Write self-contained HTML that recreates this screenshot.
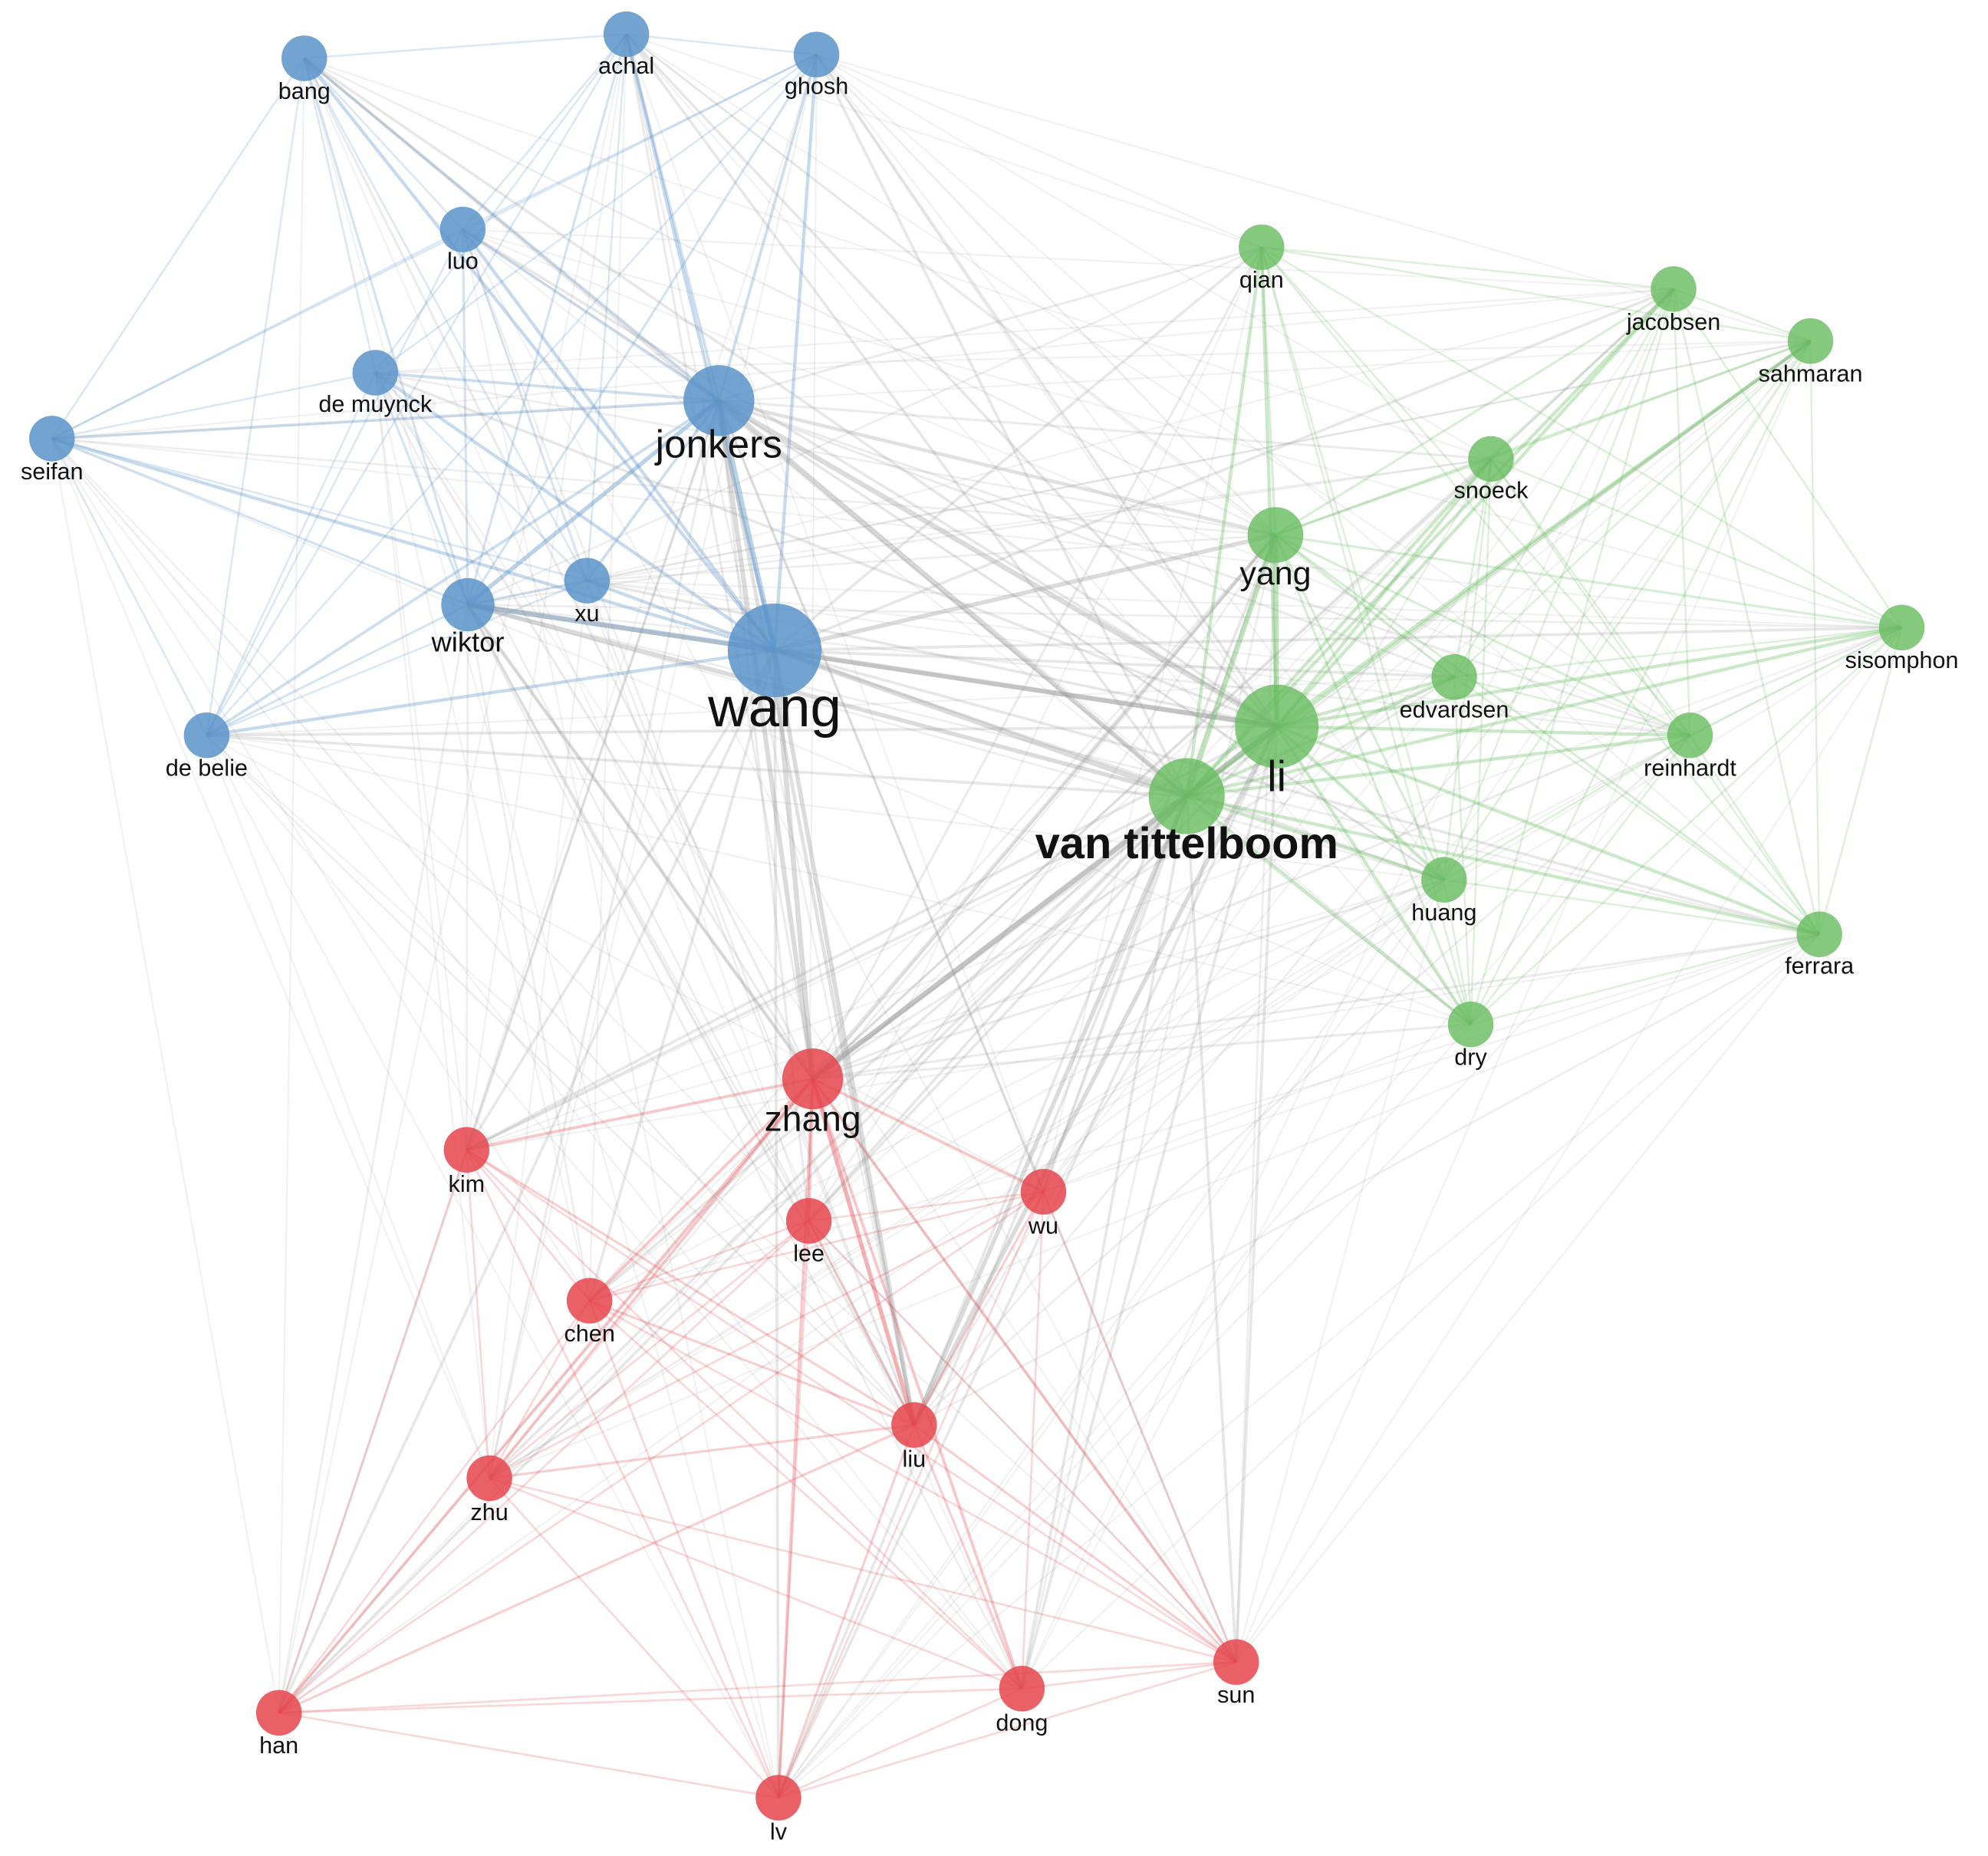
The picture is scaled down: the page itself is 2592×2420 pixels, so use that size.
<!DOCTYPE html>
<html><head><meta charset="utf-8">
<style>
html,body{margin:0;padding:0;background:#fff;}
svg{display:block;}
text{font-family:"Liberation Sans",sans-serif;fill:#111;text-anchor:middle;}
</style></head>
<body>
<svg id="s" width="2592" height="2420" viewBox="0 0 1568 1464" preserveAspectRatio="none" xmlns="http://www.w3.org/2000/svg">
<rect width="1568" height="1464" fill="#fff"/>
<g id="edges"></g>
<g id="nodes">
<circle cx="240" cy="46" r="18" fill="#5b93c9" fill-opacity="0.85"/>
<circle cx="494" cy="27" r="18" fill="#5b93c9" fill-opacity="0.85"/>
<circle cx="644" cy="43" r="18" fill="#5b93c9" fill-opacity="0.85"/>
<circle cx="365" cy="181" r="18" fill="#5b93c9" fill-opacity="0.85"/>
<circle cx="296" cy="294" r="18" fill="#5b93c9" fill-opacity="0.85"/>
<circle cx="567" cy="316" r="28" fill="#5b93c9" fill-opacity="0.85"/>
<circle cx="41" cy="346" r="18" fill="#5b93c9" fill-opacity="0.85"/>
<circle cx="369" cy="477" r="21" fill="#5b93c9" fill-opacity="0.85"/>
<circle cx="463" cy="458" r="18" fill="#5b93c9" fill-opacity="0.85"/>
<circle cx="611" cy="513" r="37" fill="#5b93c9" fill-opacity="0.85"/>
<circle cx="163" cy="580" r="18" fill="#5b93c9" fill-opacity="0.85"/>
<circle cx="995" cy="195" r="18" fill="#67bb5f" fill-opacity="0.8"/>
<circle cx="1320" cy="228" r="18" fill="#67bb5f" fill-opacity="0.8"/>
<circle cx="1428" cy="269" r="18" fill="#67bb5f" fill-opacity="0.8"/>
<circle cx="1176" cy="362" r="18" fill="#67bb5f" fill-opacity="0.8"/>
<circle cx="1006" cy="422" r="22" fill="#67bb5f" fill-opacity="0.8"/>
<circle cx="1500" cy="495" r="18" fill="#67bb5f" fill-opacity="0.8"/>
<circle cx="1147" cy="534" r="18" fill="#67bb5f" fill-opacity="0.8"/>
<circle cx="1007" cy="573" r="33" fill="#67bb5f" fill-opacity="0.8"/>
<circle cx="1333" cy="580" r="18" fill="#67bb5f" fill-opacity="0.8"/>
<circle cx="936" cy="628" r="30" fill="#67bb5f" fill-opacity="0.8"/>
<circle cx="1139" cy="694" r="18" fill="#67bb5f" fill-opacity="0.8"/>
<circle cx="1435" cy="737" r="18" fill="#67bb5f" fill-opacity="0.8"/>
<circle cx="1160" cy="808" r="18" fill="#67bb5f" fill-opacity="0.8"/>
<circle cx="641" cy="851" r="24" fill="#e5454c" fill-opacity="0.85"/>
<circle cx="368" cy="907" r="18" fill="#e5454c" fill-opacity="0.85"/>
<circle cx="823" cy="940" r="18" fill="#e5454c" fill-opacity="0.85"/>
<circle cx="638" cy="963" r="18" fill="#e5454c" fill-opacity="0.85"/>
<circle cx="465" cy="1026" r="18" fill="#e5454c" fill-opacity="0.85"/>
<circle cx="721" cy="1124" r="18" fill="#e5454c" fill-opacity="0.85"/>
<circle cx="386" cy="1166" r="18" fill="#e5454c" fill-opacity="0.85"/>
<circle cx="220" cy="1351" r="18" fill="#e5454c" fill-opacity="0.85"/>
<circle cx="806" cy="1332" r="18" fill="#e5454c" fill-opacity="0.85"/>
<circle cx="975" cy="1311" r="18" fill="#e5454c" fill-opacity="0.85"/>
<circle cx="614" cy="1418" r="18" fill="#e5454c" fill-opacity="0.85"/>
</g>
<g id="labels" font-size="18.5">
<text x="240" y="78">bang</text>
<text x="494" y="58">achal</text>
<text x="644" y="74">ghosh</text>
<text x="365" y="212">luo</text>
<text x="296" y="325">de muynck</text>
<text x="567" y="361" font-size="31">jonkers</text>
<text x="41" y="378">seifan</text>
<text x="369" y="514" font-size="22">wiktor</text>
<text x="463" y="490">xu</text>
<text x="611" y="573" font-size="44">wang</text>
<text x="163" y="612">de belie</text>
<text x="995" y="227">qian</text>
<text x="1320" y="260">jacobsen</text>
<text x="1428" y="301">sahmaran</text>
<text x="1176" y="393">snoeck</text>
<text x="1006" y="461" font-size="26">yang</text>
<text x="1500" y="527">sisomphon</text>
<text x="1147" y="566">edvardsen</text>
<text x="1007" y="624" font-size="34">li</text>
<text x="1333" y="612">reinhardt</text>
<text x="936" y="677" font-size="35" font-weight="bold">van tittelboom</text>
<text x="1139" y="726">huang</text>
<text x="1435" y="768">ferrara</text>
<text x="1160" y="840">dry</text>
<text x="641" y="892" font-size="28">zhang</text>
<text x="368" y="940">kim</text>
<text x="823" y="973">wu</text>
<text x="638" y="995">lee</text>
<text x="465" y="1058">chen</text>
<text x="721" y="1157">liu</text>
<text x="386" y="1199">zhu</text>
<text x="220" y="1383">han</text>
<text x="806" y="1365">dong</text>
<text x="975" y="1343">sun</text>
<text x="614" y="1451">lv</text>
</g>
</svg>
<script>
(function(){
var N=[
[240,46,0,1],[494,27,0,1],[644,43,0,1],[365,181,0,1],[296,294,0,1],[567,316,0,3],[41,346,0,1],[369,477,0,2],[463,458,0,1],[611,513,0,4],[163,580,0,1],
[995,195,1,1],[1320,228,1,1],[1428,269,1,1],[1176,362,1,1],[1006,422,1,2],[1500,495,1,1],[1147,534,1,1],[1007,573,1,4],[1333,580,1,1],[936,628,1,4],[1139,694,1,1],[1435,737,1,1],[1160,808,1,1],
[641,851,2,3],[368,907,2,1],[823,940,2,1],[638,963,2,1],[465,1026,2,1],[721,1124,2,2],[386,1166,2,1],[220,1351,2,1],[806,1332,2,1],[975,1311,2,1],[614,1418,2,1]];
var col=["#5b93c9","#67bb5f","#e5454c"];
var seed=7;function rnd(){seed=(seed*16807)%2147483647;return seed/2147483647;}
var out=[];
for(var i=0;i<N.length;i++)for(var j=i+1;j<N.length;j++){
var a=N[i],b=N[j],w=a[3]*b[3],r=rnd();
if(a[2]==b[2]){
 if(r>0.85&&w<2)continue;
 out.push('<line x1="'+a[0]+'" y1="'+a[1]+'" x2="'+b[0]+'" y2="'+b[1]+'" stroke="'+col[a[2]]+'" stroke-opacity="'+(0.18+0.04*Math.min(w,6))+'" stroke-width="'+(1.2+0.35*Math.min(w,8))+'"/>');
}else{
 if(r>0.3+0.12*w)continue;
 out.push('<line x1="'+a[0]+'" y1="'+a[1]+'" x2="'+b[0]+'" y2="'+b[1]+'" stroke="#999" stroke-opacity="'+(0.11+0.03*Math.min(w,8))+'" stroke-width="'+(1+0.3*Math.min(w,10))+'"/>');
}}
document.getElementById("edges").innerHTML=out.join("");
})();
</script>
</body></html>
